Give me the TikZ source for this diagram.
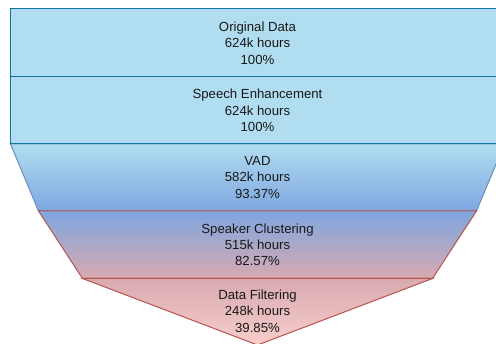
\documentclass[tikz,border=0pt]{standalone}
\usepackage{fontspec}
\setmainfont{Liberation Sans}
\begin{document}
\begin{tikzpicture}[x=1pt,y=-1pt,
  lbl/.style={align=center,font=\fontsize{13.2}{16.4}\selectfont,text=black!90,inner sep=0pt},
  boxst/.style={draw=boxblue,fill=boxfill,line width=1pt},
  redst/.style={draw=redline,line width=1pt}]
\definecolor{boxfill}{HTML}{B1DDF0}
\definecolor{boxblue}{HTML}{10739E}
\definecolor{midblue}{HTML}{7EA6E0}
\definecolor{blueline}{HTML}{6C8EBF}
\definecolor{redline}{HTML}{B85450}
\definecolor{mauve}{HTML}{D8AAB0}
\definecolor{pinkfill}{HTML}{F8CECC}
\useasboundingbox (0,0) rectangle (496,344);
\clip (0,0) rectangle (496,344);
% VAD trapezoid
\path[top color=boxfill,bottom color=midblue,draw=blueline,line width=1pt]
  (10.5,144) -- (504.5,144) -- (476.5,211) -- (38.5,211) -- cycle;
% Speaker clustering trapezoid
\path[top color=midblue,bottom color=mauve,redst]
  (38.5,211) -- (476.5,211) -- (432.5,278.5) -- (82.5,278.5) -- cycle;
% Data filtering triangle
\path[top color=mauve,bottom color=pinkfill,redst]
  (82.5,278.5) -- (432.5,278.5) -- (257.5,345) -- cycle;
% boxes
\draw[boxst] (10.5,9) rectangle (504.5,76.5);
\draw[boxst] (10.5,76.5) rectangle (504.5,144);
\node[lbl] (orig) at (257.5,43) {Original Data\\624k hours\\100\%};
\node[lbl] (enh) at (257.5,110.5) {Speech Enhancement\\624k hours\\100\%};
\node[lbl] (vad) at (257.5,177.5) {VAD\\582k hours\\93.37\%};
\node[lbl] (spk) at (257.5,244.7) {Speaker Clustering\\515k hours\\82.57\%};
\node[lbl] (filt) at (257.5,311.2) {Data Filtering\\248k hours\\39.85\%};
\end{tikzpicture}
\end{document}
